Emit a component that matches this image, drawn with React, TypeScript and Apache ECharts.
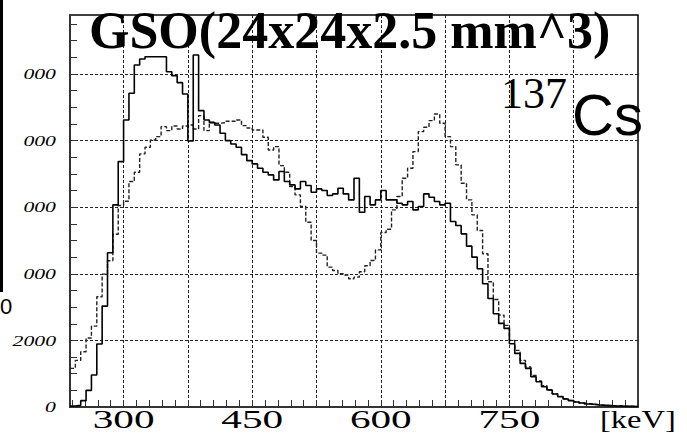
import { useEffect, useRef } from "react";
import * as echarts from "echarts";

// Histogram binning (keV)
const BIN_START = 237.5;
const BIN_WIDTH = 6.25;

// Counts per bin, solid histogram
const solidCounts = [
  30, 50, 190, 500, 960, 1890, 3030, 4630, 6070, 7370,
  8620, 9420, 10270, 10450, 10520, 10520, 10520, 10520, 10070, 9950,
  9740, 9400, 7990, 10570, 8900, 8620, 8540, 8470, 8220, 8000,
  7900, 7800, 7580, 7400, 7300, 7170, 7050, 6970, 6820, 7070,
  6770, 6670, 6550, 6770, 6650, 6450, 6550, 6500, 6350, 6400,
  6570, 6400, 6220, 6870, 5850, 6320, 6070, 6220, 6500, 6220,
  6220, 6120, 6070, 6170, 5920, 6020, 6400, 6300, 6170, 6070,
  6120, 5570, 5450, 5200, 4830, 4500, 4150, 3700, 3260, 2800,
  2510, 2360, 1900, 1610, 1310, 1160, 910, 760, 610, 510,
  390, 310, 240, 190, 150, 120, 90, 80, 60, 50,
  40, 30, 30, 20, 20, 15,
];

// Counts per bin, dashed histogram
const dashedCounts = [
  1160, 1400, 1660, 2070, 2430, 3310, 3990, 4390, 5190, 6050,
  6180, 6770, 7050, 7600, 7800, 8020, 8120, 8420, 8300, 8440,
  8350, 8440, 8470, 8350, 8750, 8300, 8550, 8520, 8540, 8580,
  8580, 8620, 8450, 8380, 8320, 8320, 8100, 7720, 7820, 7250,
  7050, 6620, 6370, 6020, 5550, 5000, 4620, 4560, 4200, 4100,
  4000, 3960, 3850, 3900, 4060, 4240, 4400, 4720, 5240, 5340,
  5920, 6320, 6870, 7170, 7670, 8270, 8400, 8600, 8800, 8520,
  8120, 7820, 7270, 6720, 6220, 5770, 5300, 4600, 3760, 3230,
  2760, 2450, 2000, 1700, 1400, 1200, 950, 780, 640, 520,
  400, 320, 250, 200, 160, 120, 100, 80, 60, 50,
  40, 35, 30, 25, 20, 15,
];

const X_MIN = 237.5;
const X_MAX = 900;
const Y_MIN = 0;
const Y_MAX = 11772;

const xGridValues = [300, 375, 450, 525, 600, 675, 750, 825];
const xTickValues = [300, 450, 600, 750];
const xTickLabels = ["300", "450", "600", "750"];
const yGridValues = [0, 2000, 4000, 6000, 8000, 10000];
const yTickLabels = ["0", "2000", "000", "000", "000", "000"];

const X_MINOR_STEP = 15;
const Y_MINOR_STEP = 500;

function stepRange(from: number, to: number, step: number): number[] {
  const out: number[] = [];
  for (let v = from; v <= to + 1e-9; v += step) out.push(v);
  return out;
}

const xMinorTicks = stepRange(240, 900, X_MINOR_STEP);
const yMinorTicks = stepRange(0, 11500, Y_MINOR_STEP);

function toSteps(counts: number[]): number[][] {
  const pts = counts.map((c, i) => [BIN_START + i * BIN_WIDTH, c]);
  pts.push([BIN_START + counts.length * BIN_WIDTH, counts[counts.length - 1]]);
  return pts;
}

const gridLineStyle = { color: "#222", width: 1, type: [3, 2] as number[] };

export default function App() {
  const ref = useRef<HTMLDivElement>(null);

  useEffect(() => {
    if (!ref.current) return;
    const chart = echarts.init(ref.current, null, { renderer: "svg" });

    chart.setOption({
      animation: false,
      backgroundColor: "#fff",
      grid: {
        left: 70,
        top: 15,
        right: 49,
        bottom: 27,
        show: true,
        borderColor: "#000",
        borderWidth: 1.5,
      },
      xAxis: [
        {
          type: "value",
          min: X_MIN,
          max: X_MAX,
          position: "bottom",
          axisLine: { show: true, onZero: false, lineStyle: { color: "#333", width: 2 } },
          axisTick: {
            show: true,
            inside: true,
            length: 7,
            customValues: xMinorTicks,
            lineStyle: { color: "#333", width: 1 },
          },
          axisLabel: { show: false },
          splitLine: { show: false },
        },
        {
          type: "value",
          min: X_MIN,
          max: X_MAX,
          position: "bottom",
          axisLine: { show: false, onZero: false },
          axisTick: { show: false, customValues: xGridValues },
          axisLabel: { show: false },
          splitLine: { show: true, lineStyle: gridLineStyle },
        },
      ],
      yAxis: [
        {
          type: "value",
          min: Y_MIN,
          max: Y_MAX,
          position: "left",
          axisLine: { show: true, onZero: false, lineStyle: { color: "#333", width: 2 } },
          axisTick: {
            show: true,
            inside: true,
            length: 7,
            customValues: yMinorTicks,
            lineStyle: { color: "#333", width: 1 },
          },
          axisLabel: { show: false },
          splitLine: { show: false },
        },
        {
          type: "value",
          min: Y_MIN,
          max: Y_MAX,
          position: "left",
          axisLine: { show: false, onZero: false },
          axisTick: { show: false, customValues: yGridValues },
          axisLabel: { show: false },
          splitLine: { show: true, lineStyle: gridLineStyle },
        },
      ],
      series: [
        {
          type: "line",
          step: "end",
          data: toSteps(dashedCounts),
          xAxisIndex: 0,
          yAxisIndex: 0,
          symbol: "none",
          silent: true,
          z: 3,
          lineStyle: { color: "#222", width: 1.4, type: [4, 2] },
        },
        {
          type: "line",
          step: "end",
          data: toSteps(solidCounts),
          xAxisIndex: 0,
          yAxisIndex: 0,
          symbol: "none",
          silent: true,
          z: 4,
          lineStyle: { color: "#000", width: 1.6 },
        },
      ],
    });

    const xPix = (v: number) => chart.convertToPixel({ xAxisIndex: 0 }, v) as number;
    const yPix = (v: number) => chart.convertToPixel({ yAxisIndex: 0 }, v) as number;

    const elements: any[] = [];

    // partial neighbouring frame and digit at the far left
    elements.push({
      type: "rect",
      silent: true,
      z: 100,
      shape: { x: 0, y: 0, width: 3, height: 292 },
      style: { fill: "#000" },
    });
    elements.push({
      type: "text",
      silent: true,
      z: 100,
      x: 0,
      y: 306,
      style: {
        text: "0",
        fill: "#000",
        fontFamily: "Liberation Sans",
        fontSize: 22,
        align: "left",
        verticalAlign: "middle",
      },
    });

    // x tick labels
    xTickValues.forEach((v, i) => {
      elements.push({
        type: "text",
        silent: true,
        z: 100,
        x: xPix(v),
        y: 419.5,
        scaleX: 1.65,
        style: {
          text: xTickLabels[i],
          fill: "#000",
          fontFamily: "Liberation Serif",
          fontSize: 25,
          align: "center",
          verticalAlign: "middle",
        },
      });
    });

    // y tick labels
    yGridValues.forEach((v, i) => {
      elements.push({
        type: "text",
        silent: true,
        z: 100,
        x: 56,
        y: yPix(v),
        scaleX: 1.45,
        style: {
          text: yTickLabels[i],
          fill: "#000",
          fontFamily: "Liberation Serif",
          fontStyle: "italic",
          fontSize: 15,
          align: "right",
          verticalAlign: "middle",
        },
      });
    });

    // axis unit
    elements.push({
      type: "text",
      silent: true,
      z: 100,
      x: 600,
      y: 419.5,
      scaleX: 1.3,
      style: {
        text: "[keV]",
        fill: "#000",
        fontFamily: "Liberation Serif",
        fontSize: 25,
        align: "left",
        verticalAlign: "middle",
      },
    });

    // title
    elements.push({
      type: "text",
      silent: true,
      z: 100,
      x: 89,
      y: 30,
      style: {
        text: "GSO(24x24x2.5 mm^3)",
        fill: "#000",
        fontFamily: "Liberation Serif",
        fontWeight: "bold",
        fontSize: 52,
        align: "left",
        verticalAlign: "middle",
      },
    });

    // source label
    elements.push({
      type: "text",
      silent: true,
      z: 100,
      x: 501,
      y: 93,
      style: {
        text: "137",
        fill: "#000",
        fontFamily: "Liberation Serif",
        fontSize: 44,
        align: "left",
        verticalAlign: "middle",
      },
    });
    elements.push({
      type: "text",
      silent: true,
      z: 100,
      x: 572,
      y: 114,
      style: {
        text: "Cs",
        fill: "#000",
        fontFamily: "Liberation Sans",
        fontSize: 58,
        align: "left",
        verticalAlign: "middle",
      },
    });

    chart.setOption({ graphic: elements });

    return () => chart.dispose();
  }, []);

  return (
    <div
      ref={ref}
      style={{
        position: "fixed",
        left: 0,
        top: 0,
        width: 687,
        height: 434,
        background: "#fff",
      }}
    />
  );
}
